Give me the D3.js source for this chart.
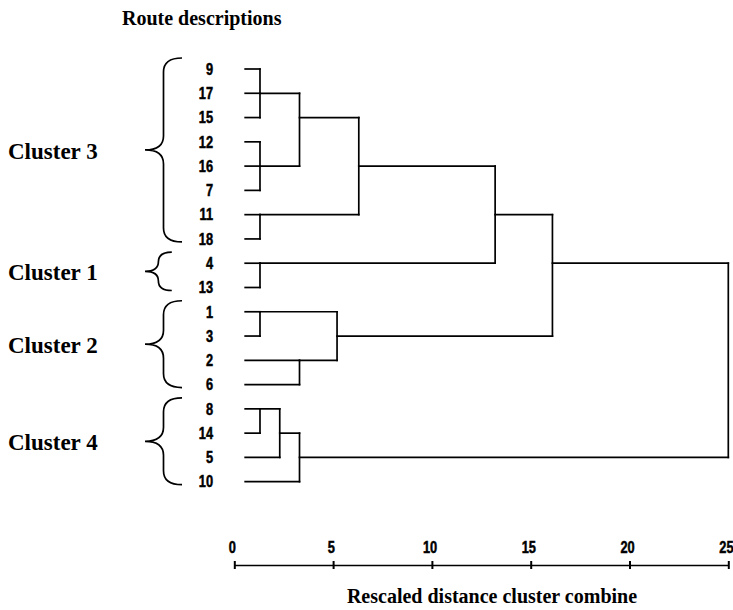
<!DOCTYPE html>
<html>
<head>
<meta charset="utf-8">
<script src="https://cdn.jsdelivr.net/npm/d3@7"></script>
<style>
    body { margin: 0; background: white; }
    svg { display: block; }
    .leaf, .tick text { font-family: "Liberation Sans", Arial, sans-serif; font-weight: bold; font-size: 16px; fill: black; stroke: black; stroke-width: 0.5px; }
    .serif { font-family: "Liberation Serif", "Times New Roman", serif; font-weight: bold; fill: black; }
</style>
</head>
<body>
<svg></svg>
<script>
// leaves from top to bottom, as printed
const leaves = ["9", "17", "15", "12", "16", "7", "11", "18", "4", "13", "1", "3", "2", "6", "8", "14", "5", "10"]

// merges: which things join, and at what rescaled distance
const mergeIds = ["A", "B", "C", "D", "E", "F", "G", "H", "I", "J", "K", "L", "M", "N", "root"]
const mergeChildren = [
    ["9", "17", "15"], ["12", "16", "7"], ["11", "18"], ["A", "B"], ["D", "C"],
    ["4", "13"], ["E", "F"], ["1", "3"], ["2", "6"], ["H", "I"],
    ["G", "J"], ["8", "14"], ["L", "5"], ["M", "10"], ["K", "N"]
]
const mergeHeights = [1.3, 1.3, 1.3, 3.3, 6.3, 1.3, 13.2, 1.3, 3.3, 5.2, 16.1, 1.3, 2.3, 3.3, 25]
const leafStart = 0.55

// cluster groups with their braces
const clusterNames = ["Cluster 3", "Cluster 1", "Cluster 2", "Cluster 4"]
const clusterFirst = ["9", "4", "1", "8"]
const clusterLast = ["18", "13", "6", "10"]

const axisTicks = [0, 5, 10, 15, 20, 25]

const svg = d3.select("svg")
    .attr("width", 733)
    .attr("height", 610)

const scaleX = d3.scaleLinear()
    .domain([0, 25])
    .range([234.3, 728.3])

const scaleRow = d3.scalePoint()
    .domain(leaves)
    .range([69, 481.7])

// work out row + height for each node
const nodes = {}
leaves.forEach((d, i) => {
    nodes[d] = { row: i, height: leafStart }
})

const segments = []
mergeIds.forEach((id, i) => {
    const kids = mergeChildren[i].map(k => nodes[k])
    const h = mergeHeights[i]
    const rows = kids.map(k => k.row)
    const lo = d3.min(rows)
    const hi = d3.max(rows)
    kids.forEach(k => {
        segments.push({ x1: k.height, x2: h, r1: k.row, r2: k.row })
    })
    segments.push({ x1: h, x2: h, r1: lo, r2: hi })
    // the joined line carries on from the middle row (rounded up)
    nodes[id] = { row: Math.floor((lo + hi) / 2), height: h }
})

const rowY = r => scaleRow(leaves[r])

svg.append("g")
    .selectAll("line")
    .data(segments)
    .enter()
    .append("line")
    .attr("x1", d => scaleX(d.x1))
    .attr("x2", d => scaleX(d.x2))
    .attr("y1", d => rowY(d.r1))
    .attr("y2", d => rowY(d.r2))
    .attr("stroke", "black")
    .attr("stroke-width", 1.7)
    .attr("stroke-linecap", "square")

// leaf numbers (squeezed, the print uses a condensed face)
svg.append("g")
    .selectAll("text")
    .data(leaves)
    .enter()
    .append("text")
    .attr("class", "leaf")
    .attr("transform", d => `translate(213, ${scaleRow(d)}) scale(0.8, 1)`)
    .attr("dy", "0.36em")
    .attr("text-anchor", "end")
    .text(d => d)

// braces + cluster names
const tipX = 145
const braces = svg.append("g")
clusterNames.forEach((name, i) => {
    const top = scaleRow(clusterFirst[i]) - 11
    const bottom = scaleRow(clusterLast[i]) + 3
    const mid = (top + bottom) / 2
    const h = bottom - top
    const right = tipX + Math.min(37, h * 0.7)
    const vx = tipX + (right - tipX) * 0.5
    const r = Math.min(14, h / 4)
    const p = d3.path()
    p.moveTo(right, top)
    p.quadraticCurveTo(vx, top, vx, top + r)
    p.lineTo(vx, mid - r)
    p.quadraticCurveTo(vx, mid, tipX, mid)
    p.quadraticCurveTo(vx, mid, vx, mid + r)
    p.lineTo(vx, bottom - r)
    p.quadraticCurveTo(vx, bottom, right, bottom)
    braces.append("path")
        .attr("d", p.toString())
        .attr("fill", "none")
        .attr("stroke", "black")
        .attr("stroke-width", 1.7)

    braces.append("text")
        .attr("class", "serif")
        .attr("x", 8)
        .attr("y", mid + 9)
        .attr("font-size", 23)
        .text(name)
})

// axis with the little + ticks, labels above the line
const axisX = d3.axisTop(scaleX)
    .tickValues(axisTicks)
    .tickSizeInner(4)
    .tickSizeOuter(0)
    .tickPadding(8)

const axisGroup = svg.append("g")
    .attr("transform", "translate(0, 565)")
    .call(axisX)

axisGroup.attr("font-size", null).attr("font-family", null)
axisGroup.select(".domain").attr("stroke", "black").attr("stroke-width", 1.7)
axisGroup.selectAll(".tick line")
    .attr("y1", 4)
    .attr("y2", -4)
    .attr("stroke", "black")
    .attr("stroke-width", 2)
axisGroup.selectAll(".tick text")
    .attr("transform", "scale(0.8, 1)")
    .attr("dx", -3)

// titles
svg.append("text")
    .attr("class", "serif")
    .attr("x", 122)
    .attr("y", 25)
    .attr("font-size", 20)
    .text("Route descriptions")

svg.append("text")
    .attr("class", "serif")
    .attr("x", 492)
    .attr("y", 603)
    .attr("text-anchor", "middle")
    .attr("font-size", 20)
    .text("Rescaled distance cluster combine")
</script>
</body>
</html>
